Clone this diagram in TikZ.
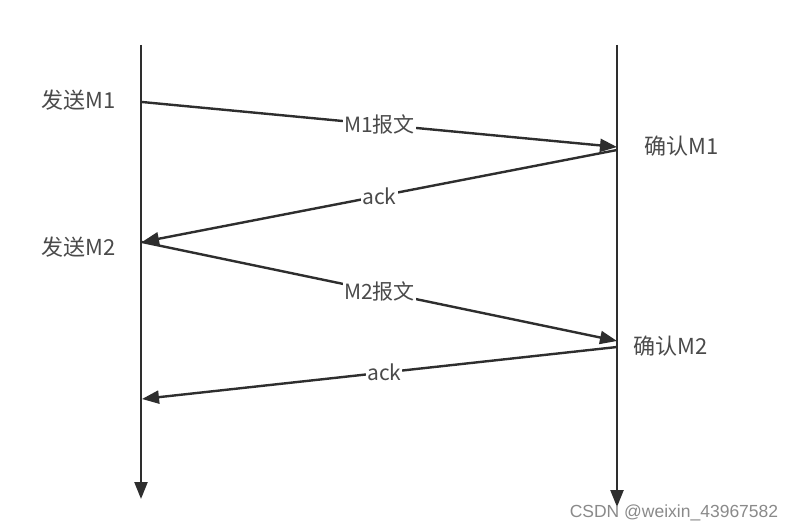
\documentclass[tikz,border=0pt]{standalone}
\usepackage{fontspec}
\setmainfont{Noto Sans CJK SC}
\newfontfamily\wmfont{Liberation Sans}
\usepackage{tikz}
\usetikzlibrary{arrows.meta, positioning}
\definecolor{lineclr}{HTML}{2E2E2E}
\definecolor{textclr}{HTML}{4A4A4A}
\definecolor{markclr}{HTML}{8A8A8A}

\tikzset{
  lifeline/.style={draw=lineclr, line width=2.4pt, -{Triangle[length=17pt, width=13pt]}},
  msgline/.style={draw=lineclr, line width=2.4pt, -{Triangle[length=17pt, width=13pt]}},
  msglabel/.style={fill=white, inner sep=1pt, font=\fontsize{21}{24}\selectfont, text=textclr},
  sidelabel/.style={inner sep=0pt, font=\fontsize{22}{25}\selectfont, text=textclr}
}

\begin{document}
\begin{tikzpicture}[x=1pt, y=-1pt]
  \useasboundingbox[fill=white] (0,0) rectangle (795,532);

  % Sender and receiver time axes
  \coordinate (sTop) at (141,45);
  \coordinate (sEnd) at (141,499);
  \coordinate (rTop) at (617,45);
  \coordinate (rEnd) at (617,507);
  \draw[lifeline] (sTop) -- (sEnd);
  \draw[lifeline] (rTop) -- (rEnd);

  % Event points on the axes
  \coordinate (send1) at (142,102);
  \coordinate (recv1) at (617,147);
  \coordinate (ackOut1) at (617,150);
  \coordinate (send2) at (142,242);
  \coordinate (recv2) at (617,341);
  \coordinate (ackOut2) at (617,347);
  \coordinate (ackIn2) at (142,399);

  % Side labels
  \node[sidelabel] (lblSend1) at (79,100) {发送M1};
  \node[sidelabel] (lblRecv1) at (682,146) {确认M1};
  \node[sidelabel] (lblSend2) at (79,247) {发送M2};
  \node[sidelabel] (lblRecv2) at (671,346) {确认M2};

  % Messages and acknowledgements
  \draw[msgline] (send1) -- node[msglabel, pos=0.5] (m1) {M1报文} (recv1);
  \draw[msgline] (ackOut1) -- node[msglabel, pos=0.5] (a1) {ack} (send2);
  \draw[msgline] (send2) -- node[msglabel, pos=0.5] (m2) {M2报文} (recv2);
  \draw[msgline] (ackOut2) -- node[msglabel, pos=0.49] (a2) {ack} (ackIn2);

  % Watermark
  \node[inner sep=0pt, font=\wmfont\fontsize{17.5}{20}\selectfont, text=markclr] (mark) at (674,513) {CSDN @weixin\_43967582};
\end{tikzpicture}
\end{document}
